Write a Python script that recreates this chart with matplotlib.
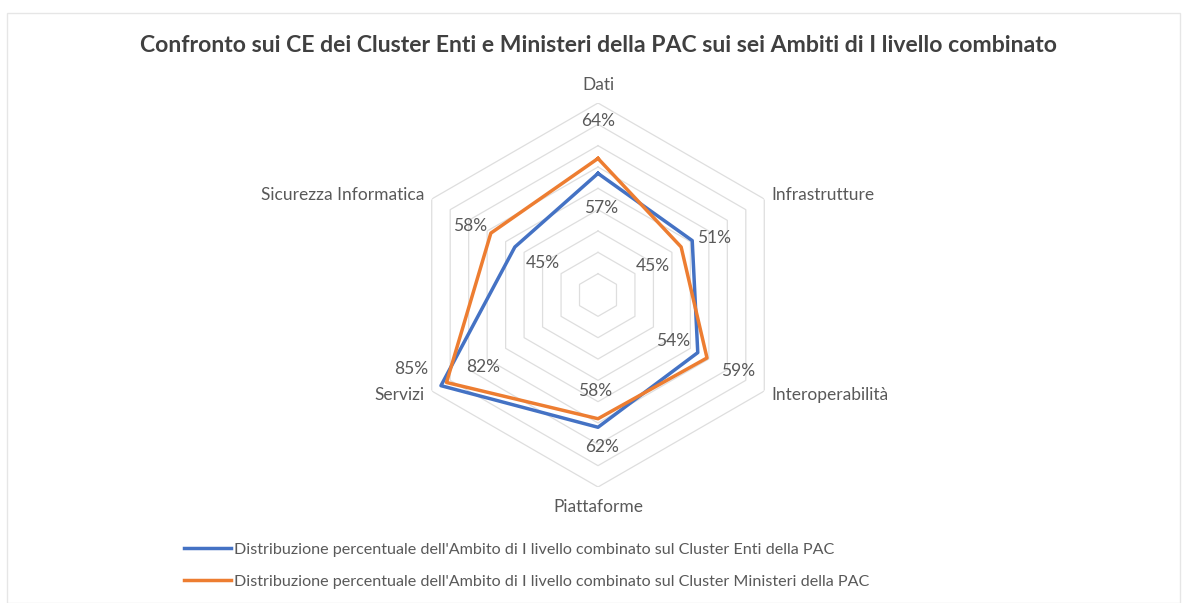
import numpy as np
import matplotlib.pyplot as plt
from matplotlib.patches import Rectangle

# categories (clockwise from top)
categories = ['Dati', 'Infrastrutture', 'Interoperabilità', 'Piattaforme',
              'Servizi', 'Sicurezza Informatica']
enti = [0.57, 0.51, 0.54, 0.62, 0.85, 0.45]
ministeri = [0.64, 0.45, 0.59, 0.58, 0.82, 0.58]
series_names = [
    "Distribuzione percentuale dell'Ambito di I livello combinato sul Cluster Enti della PAC",
    "Distribuzione percentuale dell'Ambito di I livello combinato sul Cluster Ministeri della PAC",
]
title = 'Confronto sui CE dei Cluster Enti e Ministeri della PAC sui sei Ambiti di I livello combinato'

BLUE = '#4472C4'
ORANGE = '#ED7D31'
TXT = '#595959'
FONT = 'Lato'

# label offsets in pixels (label centre relative to point)
off_enti = [(3, -35), (22, 3), (-25, 12), (4, -20), (-30, 17), (28, -16)]
off_min = [(0, 37), (-28, -19), (31, -13), (-3, 28), (37, 15), (-21, 7)]

plt.rcParams['font.family'] = [FONT, 'DejaVu Sans']

fig = plt.figure(figsize=(11.82, 6.03), dpi=100)
fig.patches.append(Rectangle((7 / 1182, 0), 1173 / 1182, 1 - 13 / 603,
                             transform=fig.transFigure, fill=False,
                             edgecolor='#e6e6e6', lw=1.0))

cx, cy, R = 598 / 1182, 1 - 295 / 603, 192
ax = fig.add_axes([cx - R / 1182, cy - R / 603, 2 * R / 1182, 2 * R / 603],
                  projection='polar')
ax.set_theta_offset(np.pi / 2)
ax.set_theta_direction(-1)
ax.set_ylim(0, 0.9)
ax.grid(False)
ax.set_xticks([])
ax.set_yticks([])
ax.spines['polar'].set_visible(False)
ax.patch.set_alpha(0)

n = len(categories)
theta = np.linspace(0, 2 * np.pi, n, endpoint=False)
tc = np.append(theta, theta[0])

for r in np.arange(0.1, 0.91, 0.1):
    ax.plot(tc, [r] * (n + 1), color='#dedede', lw=0.9, zorder=1)

ax.plot(tc, enti + enti[:1], color=BLUE, lw=2.5, zorder=3)
ax.plot(tc, ministeri + ministeri[:1], color=ORANGE, lw=2.5, zorder=4)

for vals, offs in ((enti, off_enti), (ministeri, off_min)):
    for t, v, o in zip(theta, vals, offs):
        ax.annotate(f'{v * 100:.0f}%', (t, v), xytext=o, textcoords='offset pixels',
                    ha='center', va='center', fontsize=12.5, color=TXT, zorder=5)

# category labels
cat_pos = [(0.985, 'center'), (0.94, 'left'), (0.94, 'left'),
           (0.995, 'center'), (0.94, 'right'), (0.94, 'right')]
for t, c, (r, ha) in zip(theta, categories, cat_pos):
    ax.text(t, r, c, ha=ha, va='center', fontsize=12.5, color=TXT)

fig.text(0.506, 1 - 45 / 603, title, ha='center', va='center', fontsize=16.6,
         fontweight='bold', color='#404040')

handles = [plt.Line2D([], [], color=BLUE, lw=2.5), plt.Line2D([], [], color=ORANGE, lw=2.5)]
fig.legend(handles, series_names, loc='upper left', bbox_to_anchor=(178 / 1182, 1 - 536 / 603),
           frameon=False, fontsize=11.6, handlelength=2.9, handletextpad=0.15,
           labelspacing=1.1, labelcolor=TXT, borderaxespad=0)

fig.savefig('out.png', dpi=100)
